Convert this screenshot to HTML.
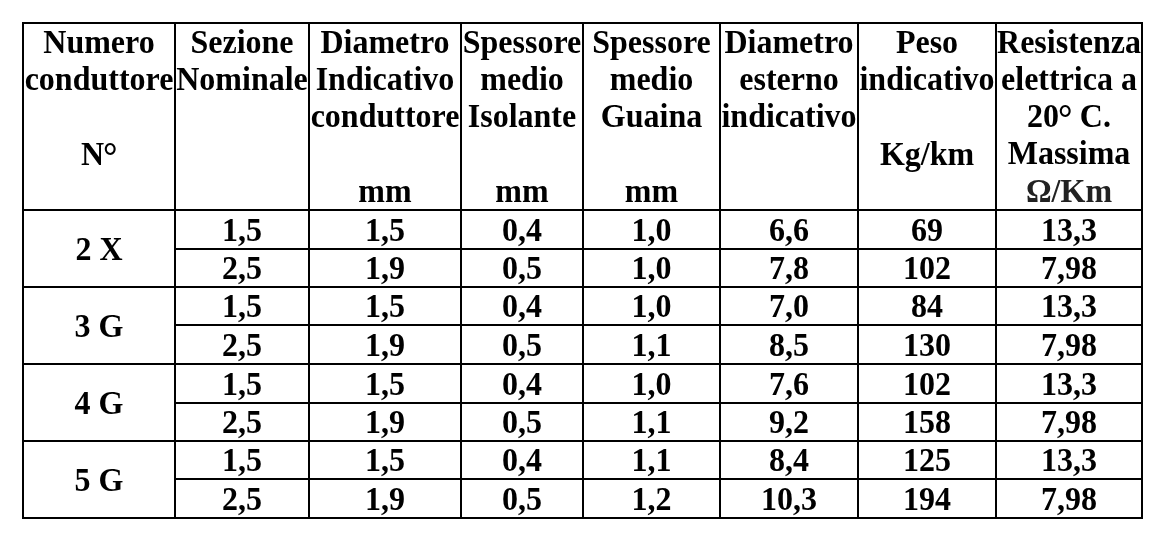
<!DOCTYPE html>
<html><head><meta charset="utf-8"><style>
html,body{margin:0;padding:0;background:#fff;}
body{width:1156px;height:536px;position:relative;overflow:hidden;filter:grayscale(1);}
.l{position:absolute;background:#000;}
.dg{display:inline-block;transform:translateY(1.2px) scale(1.13);transform-origin:7px 8px;}
.t{position:absolute;text-align:center;white-space:nowrap;font-family:"Liberation Serif",serif;font-weight:bold;font-size:32px;line-height:37.25px;color:#000;transform:scaleY(1.04);transform-origin:50% 29.42px;}
</style></head><body>
<div class="l" style="left:22px;top:22px;width:2px;height:497px"></div>
<div class="l" style="left:174px;top:22px;width:2px;height:497px"></div>
<div class="l" style="left:308px;top:22px;width:2px;height:497px"></div>
<div class="l" style="left:460px;top:22px;width:2px;height:497px"></div>
<div class="l" style="left:582px;top:22px;width:2px;height:497px"></div>
<div class="l" style="left:719px;top:22px;width:2px;height:497px"></div>
<div class="l" style="left:857px;top:22px;width:2px;height:497px"></div>
<div class="l" style="left:995px;top:22px;width:2px;height:497px"></div>
<div class="l" style="left:1141px;top:22px;width:2px;height:497px"></div>
<div class="l" style="left:22px;top:22px;width:1121px;height:2px"></div>
<div class="l" style="left:22px;top:209px;width:1121px;height:2px"></div>
<div class="l" style="left:174px;top:248px;width:969px;height:2px"></div>
<div class="l" style="left:22px;top:286px;width:1121px;height:2px"></div>
<div class="l" style="left:174px;top:324px;width:969px;height:2px"></div>
<div class="l" style="left:22px;top:363px;width:1121px;height:2px"></div>
<div class="l" style="left:174px;top:402px;width:969px;height:2px"></div>
<div class="l" style="left:22px;top:440px;width:1121px;height:2px"></div>
<div class="l" style="left:174px;top:478px;width:969px;height:2px"></div>
<div class="l" style="left:22px;top:517px;width:1121px;height:2px"></div>
<div class="t" style="left:24px;width:150px;top:24px">Numero</div>
<div class="t" style="left:24px;width:150px;top:61px">conduttore</div>
<div class="t" style="left:24px;width:150px;top:136px">N<span class="dg">°</span></div>
<div class="t" style="left:176px;width:132px;top:24px">Sezione</div>
<div class="t" style="left:176px;width:132px;top:61px">Nominale</div>
<div class="t" style="left:310px;width:150px;top:24px">Diametro</div>
<div class="t" style="left:310px;width:150px;top:61px">Indicativo</div>
<div class="t" style="left:310px;width:150px;top:98px">conduttore</div>
<div class="t" style="left:310px;width:150px;top:173px">mm</div>
<div class="t" style="left:462px;width:120px;top:24px">Spessore</div>
<div class="t" style="left:462px;width:120px;top:61px">medio</div>
<div class="t" style="left:462px;width:120px;top:98px">Isolante</div>
<div class="t" style="left:462px;width:120px;top:173px">mm</div>
<div class="t" style="left:584px;width:135px;top:24px">Spessore</div>
<div class="t" style="left:584px;width:135px;top:61px">medio</div>
<div class="t" style="left:584px;width:135px;top:98px">Guaina</div>
<div class="t" style="left:584px;width:135px;top:173px">mm</div>
<div class="t" style="left:721px;width:136px;top:24px">Diametro</div>
<div class="t" style="left:721px;width:136px;top:61px">esterno</div>
<div class="t" style="left:721px;width:136px;top:98px">indicativo</div>
<div class="t" style="left:859px;width:136px;top:24px">Peso</div>
<div class="t" style="left:859px;width:136px;top:61px">indicativo</div>
<div class="t" style="left:859px;width:136px;top:136px">Kg/km</div>
<div class="t" style="left:997px;width:144px;top:24px">Resistenza</div>
<div class="t" style="left:997px;width:144px;top:61px">elettrica a</div>
<div class="t" style="left:997px;width:144px;top:98px">20<span class="dg">°</span> C.</div>
<div class="t" style="left:997px;width:144px;top:135px">Massima</div>
<div class="t" style="left:997px;width:144px;top:173px;color:#222">Ω/Km</div>
<div class="t" style="left:24px;width:150px;top:231px">2 X</div>
<div class="t" style="left:176px;width:132px;top:212px">1,5</div>
<div class="t" style="left:310px;width:150px;top:212px">1,5</div>
<div class="t" style="left:462px;width:120px;top:212px">0,4</div>
<div class="t" style="left:584px;width:135px;top:212px">1,0</div>
<div class="t" style="left:721px;width:136px;top:212px">6,6</div>
<div class="t" style="left:859px;width:136px;top:212px">69</div>
<div class="t" style="left:997px;width:144px;top:212px">13,3</div>
<div class="t" style="left:176px;width:132px;top:250px">2,5</div>
<div class="t" style="left:310px;width:150px;top:250px">1,9</div>
<div class="t" style="left:462px;width:120px;top:250px">0,5</div>
<div class="t" style="left:584px;width:135px;top:250px">1,0</div>
<div class="t" style="left:721px;width:136px;top:250px">7,8</div>
<div class="t" style="left:859px;width:136px;top:250px">102</div>
<div class="t" style="left:997px;width:144px;top:250px">7,98</div>
<div class="t" style="left:24px;width:150px;top:308px">3 G</div>
<div class="t" style="left:176px;width:132px;top:288px">1,5</div>
<div class="t" style="left:310px;width:150px;top:288px">1,5</div>
<div class="t" style="left:462px;width:120px;top:288px">0,4</div>
<div class="t" style="left:584px;width:135px;top:288px">1,0</div>
<div class="t" style="left:721px;width:136px;top:288px">7,0</div>
<div class="t" style="left:859px;width:136px;top:288px">84</div>
<div class="t" style="left:997px;width:144px;top:288px">13,3</div>
<div class="t" style="left:176px;width:132px;top:327px">2,5</div>
<div class="t" style="left:310px;width:150px;top:327px">1,9</div>
<div class="t" style="left:462px;width:120px;top:327px">0,5</div>
<div class="t" style="left:584px;width:135px;top:327px">1,1</div>
<div class="t" style="left:721px;width:136px;top:327px">8,5</div>
<div class="t" style="left:859px;width:136px;top:327px">130</div>
<div class="t" style="left:997px;width:144px;top:327px">7,98</div>
<div class="t" style="left:24px;width:150px;top:385px">4 G</div>
<div class="t" style="left:176px;width:132px;top:366px">1,5</div>
<div class="t" style="left:310px;width:150px;top:366px">1,5</div>
<div class="t" style="left:462px;width:120px;top:366px">0,4</div>
<div class="t" style="left:584px;width:135px;top:366px">1,0</div>
<div class="t" style="left:721px;width:136px;top:366px">7,6</div>
<div class="t" style="left:859px;width:136px;top:366px">102</div>
<div class="t" style="left:997px;width:144px;top:366px">13,3</div>
<div class="t" style="left:176px;width:132px;top:404px">2,5</div>
<div class="t" style="left:310px;width:150px;top:404px">1,9</div>
<div class="t" style="left:462px;width:120px;top:404px">0,5</div>
<div class="t" style="left:584px;width:135px;top:404px">1,1</div>
<div class="t" style="left:721px;width:136px;top:404px">9,2</div>
<div class="t" style="left:859px;width:136px;top:404px">158</div>
<div class="t" style="left:997px;width:144px;top:404px">7,98</div>
<div class="t" style="left:24px;width:150px;top:462px">5 G</div>
<div class="t" style="left:176px;width:132px;top:442px">1,5</div>
<div class="t" style="left:310px;width:150px;top:442px">1,5</div>
<div class="t" style="left:462px;width:120px;top:442px">0,4</div>
<div class="t" style="left:584px;width:135px;top:442px">1,1</div>
<div class="t" style="left:721px;width:136px;top:442px">8,4</div>
<div class="t" style="left:859px;width:136px;top:442px">125</div>
<div class="t" style="left:997px;width:144px;top:442px">13,3</div>
<div class="t" style="left:176px;width:132px;top:481px">2,5</div>
<div class="t" style="left:310px;width:150px;top:481px">1,9</div>
<div class="t" style="left:462px;width:120px;top:481px">0,5</div>
<div class="t" style="left:584px;width:135px;top:481px">1,2</div>
<div class="t" style="left:721px;width:136px;top:481px">10,3</div>
<div class="t" style="left:859px;width:136px;top:481px">194</div>
<div class="t" style="left:997px;width:144px;top:481px">7,98</div>
</body></html>
